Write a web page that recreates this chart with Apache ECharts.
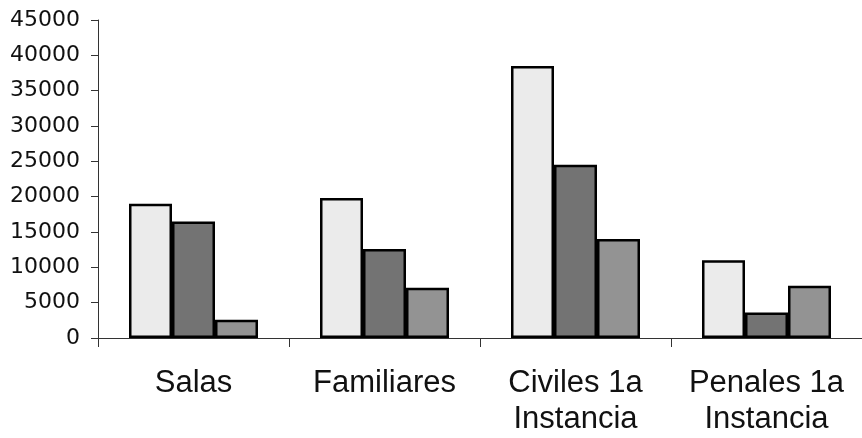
<!DOCTYPE html>
<html>
<head>
<meta charset="utf-8">
<script src="https://cdn.jsdelivr.net/npm/echarts@6/dist/echarts.min.js"></script>
<style>
html,body{margin:0;padding:0;background:#fff;}
#chart{width:862px;height:438px;}
</style>
</head>
<body>
<div id="chart"></div>
<script>
const categories = ["Salas", "Familiares", "Civiles 1a\nInstancia", "Penales 1a\nInstancia"];
const serie1 = [19000, 19800, 38500, 11000];
const serie2 = [16500, 12600, 24500, 3600];
const serie3 = [2600, 7100, 14000, 7400];
const yTicks = { min: 0, max: 45000, interval: 5000 };

const colors = ["#ebebeb", "#737373", "#939393"];
const chart = echarts.init(document.getElementById('chart'), null, { renderer: 'canvas' });

function bar(data, color) {
  return {
    type: 'bar',
    data: data,
    barWidth: 43,
    barGap: '0%',
    itemStyle: { color: color, borderColor: '#000', borderWidth: 2.5 },
    emphasis: { disabled: true },
    animation: false
  };
}

chart.setOption({
  animation: false,
  backgroundColor: '#fff',
  grid: { left: 98, top: 20, bottom: 100, width: 772, containLabel: false },
  xAxis: {
    type: 'category',
    data: categories,
    boundaryGap: true,
    axisLine: { lineStyle: { color: '#333', width: 1 } },
    axisTick: { show: true, length: 9, interval: 0, lineStyle: { color: '#333' } },
    axisLabel: {
      interval: 0,
      margin: 27,
      fontFamily: '"Liberation Sans", Arial, sans-serif',
      fontSize: 31,
      lineHeight: 36,
      color: '#111'
    },
    splitLine: { show: false }
  },
  yAxis: {
    type: 'value',
    min: yTicks.min,
    max: yTicks.max,
    interval: yTicks.interval,
    axisLine: { show: true, lineStyle: { color: '#333', width: 1 } },
    axisTick: { show: true, length: 7, lineStyle: { color: '#333' } },
    axisLabel: {
      margin: 18,
      fontFamily: '"DejaVu Sans", sans-serif',
      fontSize: 22,
      color: '#111',
      formatter: function (v) { return String(v); }
    },
    splitLine: { show: false }
  },
  series: [bar(serie1, colors[0]), bar(serie2, colors[1]), bar(serie3, colors[2])]
});
</script>
</body>
</html>
